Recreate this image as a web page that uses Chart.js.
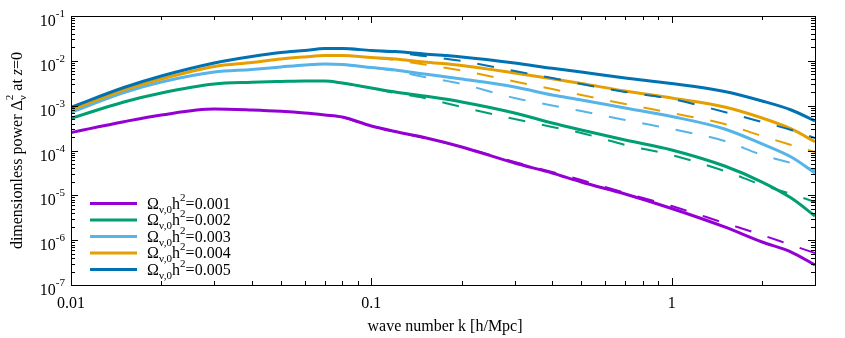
<!DOCTYPE html>
<html>
<head>
<meta charset="utf-8">
<script src="https://cdn.jsdelivr.net/npm/chart.js@4.4.1/dist/chart.umd.min.js"></script>
<style>
  html, body { margin: 0; padding: 0; background: #fff; }
</style>
</head>
<body>
<canvas id="powerChart" width="845" height="338"></canvas>
<script>
// wave numbers k [h/Mpc]
const kSolid = [0.01, 0.015, 0.02, 0.03, 0.04, 0.05, 0.06, 0.07, 0.08, 0.1, 0.12, 0.15,
                0.2, 0.3, 0.4, 0.5, 0.7, 1, 1.5, 2, 2.5, 3];
const kDashed = [0.08, 0.1, 0.12, 0.15, 0.2, 0.3, 0.4, 0.5, 0.7, 1, 1.5, 2, 2.5, 3];

const labels = ["0.001", "0.002", "0.003", "0.004", "0.005"];
const colors = ["#9400d3", "#009e73", "#56b4e9", "#e69f00", "#0072b2"];

// solid curves
const solid001 = [2.52e-4, 4.39e-4, 6.19e-4, 8.42e-4, 8.0e-4, 7.48e-4, 6.86e-4, 6.19e-4, 5.58e-4, 3.52e-4, 2.65e-4, 1.95e-4,
                  1.20e-4, 5.26e-5, 3.15e-5, 1.98e-5, 1.07e-5, 5.08e-6, 1.97e-6, 9.09e-7, 5.44e-7, 2.79e-7];
const solid002 = [5.22e-4, 1.21e-3, 1.92e-3, 3.04e-3, 3.32e-3, 3.46e-3, 3.55e-3, 3.55e-3, 3.20e-3, 2.48e-3, 2.02e-3, 1.64e-3,
                  1.21e-3, 6.86e-4, 4.10e-4, 2.87e-4, 1.71e-4, 1.03e-4, 4.51e-5, 1.98e-5, 8.71e-6, 3.46e-6];
const solid003 = [7.11e-4, 1.97e-3, 3.37e-3, 5.63e-3, 6.41e-3, 7.29e-3, 8.07e-3, 8.50e-3, 8.28e-3, 7.10e-3, 6.25e-3, 5.08e-3,
                  3.93e-3, 2.61e-3, 1.73e-3, 1.34e-3, 8.87e-4, 5.73e-4, 3.02e-4, 1.40e-4, 7.16e-5, 3.15e-5];
const solid004 = [8.0e-4, 2.24e-3, 3.93e-3, 7.47e-3, 9.18e-3, 1.10e-2, 1.22e-2, 1.31e-2, 1.31e-2, 1.19e-2, 1.10e-2, 9.42e-3,
                  7.87e-3, 5.35e-3, 3.97e-3, 3.12e-3, 2.12e-3, 1.48e-3, 9.33e-4, 5.30e-4, 3.02e-4, 1.57e-4];
const solid005 = [9.19e-4, 2.54e-3, 4.59e-3, 8.94e-3, 1.25e-2, 1.53e-2, 1.70e-2, 1.88e-2, 1.88e-2, 1.70e-2, 1.61e-2, 1.42e-2,
                  1.22e-2, 8.94e-3, 6.81e-3, 5.63e-3, 4.14e-3, 3.12e-3, 2.07e-3, 1.27e-3, 8.0e-4, 4.55e-4];

// dashed curves
const dashed001 = [5.58e-4, 3.52e-4, 2.65e-4, 1.90e-4, 1.20e-4, 5.54e-5, 3.31e-5, 2.20e-5, 1.13e-5, 5.78e-6, 2.41e-6, 1.30e-6, 7.80e-7, 5.17e-7];
const dashed002 = [3.20e-3, 2.48e-3, 1.92e-3, 1.48e-3, 9.33e-4, 5.04e-4, 3.34e-4, 2.46e-4, 1.33e-4, 7.93e-5, 3.49e-5, 1.70e-5, 1.07e-5, 7.10e-6];
const dashed003 = [8.28e-3, 7.10e-3, 5.93e-3, 4.36e-3, 3.04e-3, 1.48e-3, 1.01e-3, 7.60e-4, 4.79e-4, 3.02e-4, 1.63e-4, 7.93e-5, 5.26e-5, 3.67e-5];
const dashed004 = [1.31e-2, 1.19e-2, 1.04e-2, 8.28e-3, 6.09e-3, 3.46e-3, 2.35e-3, 1.73e-3, 1.09e-3, 6.86e-4, 3.90e-4, 2.10e-4, 1.33e-4, 9.25e-5];
const dashed005 = [1.88e-2, 1.70e-2, 1.53e-2, 1.28e-2, 9.91e-3, 5.93e-3, 4.14e-3, 3.04e-3, 2.02e-3, 1.41e-3, 7.22e-4, 4.32e-4, 2.87e-4, 1.90e-4];

const xTickValues = [0.01, 0.1, 1];
const xTickLabels = ["0.01", "0.1", "1"];
const yTickExponents = [-7, -6, -5, -4, -3, -2, -1];

const solidSeries = [solid001, solid002, solid003, solid004, solid005];
const dashedSeries = [dashed001, dashed002, dashed003, dashed004, dashed005];

const serif = "'Liberation Serif', 'DejaVu Serif', serif";

function pts(ks, vs) {
  return ks.map((k, i) => ({ x: k, y: vs[i] }));
}

const datasets = [];
solidSeries.forEach((s, i) => {
  datasets.push({
    data: pts(kSolid, s),
    borderColor: colors[i],
    borderWidth: 3,
    order: 10 - i
  });
});
dashedSeries.forEach((s, i) => {
  datasets.push({
    data: pts(kDashed, s),
    borderColor: colors[i],
    borderWidth: 2,
    borderDash: [17, 17],
    order: 5 - i
  });
});

// draw a run of text pieces (for sub/superscripts)
function drawParts(ctx, parts, x, y) {
  let cx = x;
  let pending = 0;
  parts.forEach(p => {
    ctx.font = (p.italic ? "italic " : "") + p.size + "px " + serif;
    ctx.fillText(p.t, cx, y + (p.dy || 0));
    const w = ctx.measureText(p.t).width;
    if (p.stack) {
      pending = Math.max(pending, w);
    } else {
      cx += Math.max(w, pending);
      pending = 0;
    }
  });
  return cx - x;
}

function measureParts(ctx, parts) {
  let w = 0, pending = 0;
  parts.forEach(p => {
    ctx.font = (p.italic ? "italic " : "") + p.size + "px " + serif;
    const pw = ctx.measureText(p.t).width;
    if (p.stack) pending = Math.max(pending, pw);
    else { w += Math.max(pw, pending); pending = 0; }
  });
  return w;
}

const framePlugin = {
  id: "frame",
  afterDatasetsDraw(chart) {
    const ctx = chart.ctx;
    const a = chart.chartArea;
    const xs = chart.scales.x;
    const ys = chart.scales.y;
    ctx.save();
    ctx.strokeStyle = "#000";
    ctx.lineWidth = 1;
    ctx.strokeRect(Math.round(a.left) + 0.5, Math.round(a.top) + 0.5,
                   Math.round(a.right - a.left), Math.round(a.bottom - a.top));

    ctx.beginPath();
    // x ticks, mirrored top and bottom
    [0.01, 0.1, 1].forEach(d => {
      for (let m = 1; m < 10; m++) {
        const v = d * m;
        if (v < xs.min * 0.999 || v > xs.max * 1.001) continue;
        const px = Math.round(xs.getPixelForValue(v)) + 0.5;
        const len = m === 1 ? 7 : 4;
        ctx.moveTo(px, a.bottom); ctx.lineTo(px, a.bottom - len);
        ctx.moveTo(px, a.top); ctx.lineTo(px, a.top + len);
      }
    });
    // y ticks, mirrored left and right
    yTickExponents.forEach(e => {
      for (let m = 1; m < 10; m++) {
        const v = m * Math.pow(10, e);
        if (v < ys.min * 0.999 || v > ys.max * 1.001) continue;
        const py = Math.round(ys.getPixelForValue(v)) + 0.5;
        const len = m === 1 ? 7 : 4;
        ctx.moveTo(a.left, py); ctx.lineTo(a.left + len, py);
        ctx.moveTo(a.right, py); ctx.lineTo(a.right - len, py);
      }
    });
    ctx.stroke();

    ctx.fillStyle = "#000";
    ctx.textBaseline = "alphabetic";

    // x tick labels
    ctx.font = "16px " + serif;
    ctx.textAlign = "center";
    xTickValues.forEach((v, i) => {
      ctx.fillText(xTickLabels[i], xs.getPixelForValue(v), a.bottom + 23);
    });

    // y tick labels: 10^e
    ctx.textAlign = "left";
    yTickExponents.forEach(e => {
      const py = ys.getPixelForValue(Math.pow(10, e));
      const parts = [{ t: "10", size: 16 }, { t: String(e), size: 11, dy: -9 }];
      const w = measureParts(ctx, parts);
      drawParts(ctx, parts, a.left - 6 - w, py + 10);
    });

    // x axis title
    ctx.font = "16px " + serif;
    ctx.textAlign = "center";
    ctx.fillText("wave number k [h/Mpc]", (a.left + a.right) / 2 + 2, 331);

    // y axis title (rotated)
    ctx.textAlign = "left";
    const yParts = [
      { t: "dimensionless power \u0394", size: 16 },
      { t: "2", size: 11, dy: -9, stack: true },
      { t: "\u03bd", size: 11, dy: 4 },
      { t: " at ", size: 16 },
      { t: "z", size: 16, italic: true },
      { t: "=0", size: 16 }
    ];
    const yw = measureParts(ctx, yParts);
    ctx.save();
    ctx.translate(22, (a.top + a.bottom) / 2);
    ctx.rotate(-Math.PI / 2);
    drawParts(ctx, yParts, -yw / 2, 0);
    ctx.restore();

    // legend
    labels.forEach((lab, i) => {
      const ly = 203.5 + 16.5 * i;
      ctx.strokeStyle = colors[i];
      ctx.lineWidth = 3;
      ctx.beginPath();
      ctx.moveTo(90, ly);
      ctx.lineTo(137, ly);
      ctx.stroke();
      ctx.fillStyle = "#000";
      drawParts(ctx, [
        { t: "\u03a9", size: 16 },
        { t: "\u03bd,0", size: 11, dy: 4 },
        { t: "h", size: 16 },
        { t: "2", size: 11, dy: -8 },
        { t: "=" + lab, size: 16 }
      ], 147, ly + 5);
    });
    ctx.restore();
  }
};

const chartContext = document.getElementById("powerChart").getContext("2d");
const powerChart = new Chart(chartContext, {
  type: "line",
  data: { datasets: datasets },
  options: {
    responsive: false,
    animation: false,
    devicePixelRatio: 1,
    layout: { padding: { left: 71, top: 16, right: 30, bottom: 53 } },
    elements: {
      point: { radius: 0 },
      line: { cubicInterpolationMode: "monotone", fill: false }
    },
    plugins: {
      legend: { display: false },
      tooltip: { enabled: false }
    },
    scales: {
      x: { type: "logarithmic", min: 0.01, max: 3, display: false },
      y: { type: "logarithmic", min: 1e-7, max: 1e-1, display: false }
    }
  },
  plugins: [framePlugin]
});
</script>
</body>
</html>
